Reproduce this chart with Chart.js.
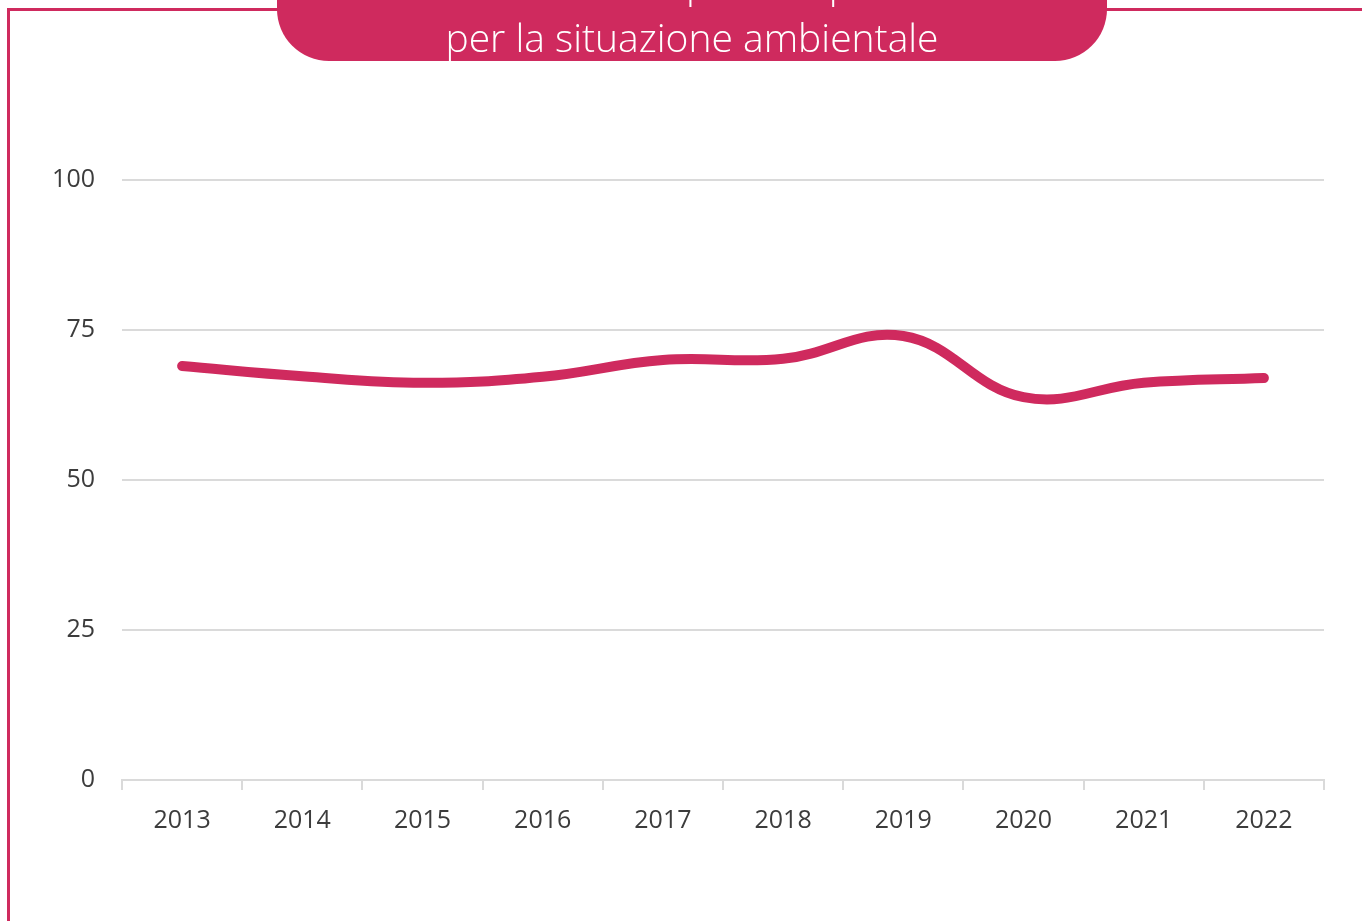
<!DOCTYPE html>
<html><head><meta charset="utf-8">
<script src="https://cdn.jsdelivr.net/npm/chart.js@4"></script>
<style>
html,body{margin:0;padding:0;background:#fff;overflow:hidden;}
#wrap{position:relative;width:1362px;height:921px;overflow:hidden;}
#frame{position:absolute;left:7px;top:8px;width:1420px;height:1000px;border:3px solid #CF2A5E;box-sizing:border-box;}
#titlebox{position:absolute;left:277px;top:-70px;width:830px;height:131px;background:#CF2A5E;border-radius:52px;z-index:2;overflow:hidden;}
.tl{position:absolute;left:0;width:830px;text-align:center;color:#fff;font-family:'Open Sans';font-weight:300;font-size:39px;line-height:39px;white-space:nowrap;}
canvas{position:absolute;left:0;top:0;z-index:1;}
</style></head>
<body>
<div id="wrap">
  <div id="frame"></div>
  <canvas id="c" width="1362" height="921"></canvas>
  <div id="titlebox">
    <div class="tl" style="top:33px">% di utenti preoccupati</div>
    <div class="tl" style="top:87px">per la situazione ambientale</div>
  </div>
</div>
<script>
const years = ['2013','2014','2015','2016','2017','2018','2019','2020','2021','2022'];
const values = [69, 67.3, 66.2, 67.2, 70, 70.2, 74, 63.8, 66.2, 67];
const yMin = 0, yMax = 100, yStep = 25;

const tickFont = {family:'Open Sans', size:25};
const gridColor = '#dadada';
const labelColor = '#3c3c3c';

new Chart(document.getElementById('c'), {
  type:'line',
  data:{labels:years, datasets:[{
    data:values, borderColor:'#CF2A5E', borderWidth:10, tension:0.4,
    pointRadius:0, borderCapStyle:'round', borderJoinStyle:'round', fill:false
  }]},
  options:{
    responsive:false, animation:false, devicePixelRatio:1,
    layout:{padding:{top:180,right:38,left:0,bottom:0}},
    plugins:{legend:{display:false}, tooltip:{enabled:false}},
    scales:{
      x:{
        offset:true,
        grid:{offset:true, drawOnChartArea:false, drawTicks:true, tickLength:10, color:gridColor, lineWidth:2},
        border:{display:true, color:gridColor, width:2},
        ticks:{color:labelColor, font:tickFont, padding:16, maxRotation:0},
        afterFit:s=>{s.height=141;}
      },
      y:{
        min:yMin, max:yMax,
        grid:{drawTicks:false, color:gridColor, lineWidth:2},
        border:{display:false},
        ticks:{stepSize:yStep, color:labelColor, font:tickFont, padding:27},
        afterFit:s=>{s.width=122;}
      }
    }
  }
});
</script>
</body></html>
